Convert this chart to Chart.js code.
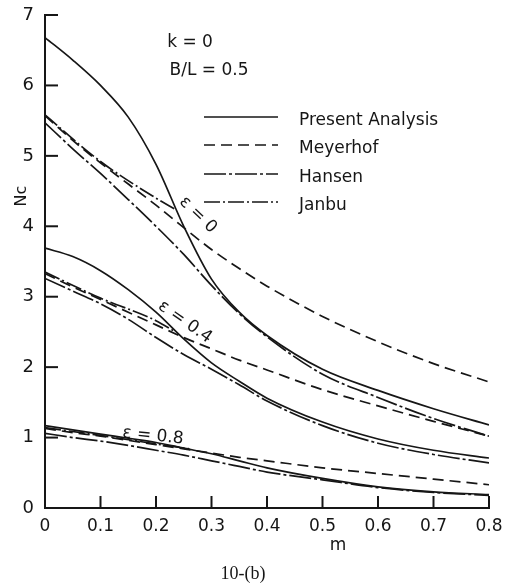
<!DOCTYPE html>
<html>
<head>
<meta charset="utf-8">
<script src="https://cdn.jsdelivr.net/npm/chart.js@4.4.1/dist/chart.umd.min.js"></script>
<style>
  html, body { margin: 0; padding: 0; background: #fff; }
</style>
</head>
<body>
<canvas id="chart" width="508" height="587"></canvas>
<script>
// values (Nc against m, k = 0, B/L = 0.5)
const m = [0, 0.05, 0.1, 0.15, 0.2, 0.25, 0.3, 0.35, 0.4, 0.5, 0.6, 0.7, 0.8]

const presentE0 = [6.68, 6.36, 6.0, 5.55, 4.88, 4.0, 3.25, 2.78, 2.45, 1.97, 1.67, 1.41, 1.18]
const presentE04 = [3.69, 3.57, 3.37, 3.1, 2.78, 2.4, 2.06, 1.8, 1.56, 1.22, 0.98, 0.82, 0.71]
const presentE08 = [1.17, 1.11, 1.05, 0.99, 0.93, 0.85, 0.77, 0.67, 0.57, 0.42, 0.3, 0.23, 0.19]

const meyerhofE0 = [5.57, 5.22, 4.9, 4.6, 4.3, 3.98, 3.67, 3.4, 3.15, 2.72, 2.36, 2.05, 1.79]
const meyerhofE04 = [3.33, 3.14, 2.96, 2.78, 2.6, 2.42, 2.26, 2.1, 1.96, 1.68, 1.45, 1.23, 1.02]
const meyerhofE08 = [1.13, 1.07, 1.02, 0.96, 0.9, 0.84, 0.78, 0.72, 0.67, 0.57, 0.49, 0.41, 0.33]

const hansenE0 = [5.47, 5.1, 4.75, 4.38, 4.0, 3.6, 3.16, 2.76, 2.43, 1.9, 1.57, 1.27, 1.02]
const hansenE04 = [3.26, 3.08, 2.9, 2.68, 2.42, 2.18, 1.97, 1.75, 1.52, 1.17, 0.92, 0.76, 0.64]
const hansenE08 = [1.06, 1.0, 0.95, 0.89, 0.82, 0.75, 0.67, 0.59, 0.51, 0.4, 0.29, 0.22, 0.18]

const mJanbuE0 = [0, 0.1, 0.2, 0.235]
const janbuE0 = [5.58, 4.92, 4.4, 4.24]
const mJanbuE04 = [0, 0.1, 0.2, 0.235]
const janbuE04 = [3.35, 2.98, 2.66, 2.5]
const mJanbuE08 = [0, 0.1, 0.2, 0.26]
const janbuE08 = [1.14, 1.03, 0.91, 0.84]

const xTicks = [0, 0.1, 0.2, 0.3, 0.4, 0.5, 0.6, 0.7, 0.8]
const xTickLabels = ['0', '0.1', '0.2', '0.3', '0.4', '0.5', '0.6', '0.7', '0.8']
const yTicks = [0, 1, 2, 3, 4, 5, 6, 7]
const yTickLabels = ['0', '1', '2', '3', '4', '5', '6', '7']

const methods = ['Present Analysis', 'Meyerhof', 'Hansen', 'Janbu']

const ink = '#161616'
const font = '"DejaVu Sans", sans-serif'

const dashes = {
  'Present Analysis': [],
  'Meyerhof': [11, 6],
  'Hansen': [22, 3, 3, 3],
  'Janbu': [16, 3, 2, 3],
}

function pts(xs, ys) {
  return xs.map((v, i) => ({ x: v, y: ys[i] }))
}

function series(method, xs, ys) {
  return {
    label: method,
    data: pts(xs, ys),
    borderColor: ink,
    borderWidth: 1.7,
    borderDash: dashes[method],
    pointRadius: 0,
    fill: false,
    cubicInterpolationMode: 'monotone',
  }
}

const datasets = [
  series('Present Analysis', m, presentE0),
  series('Present Analysis', m, presentE04),
  series('Present Analysis', m, presentE08),
  series('Meyerhof', m, meyerhofE0),
  series('Meyerhof', m, meyerhofE04),
  series('Meyerhof', m, meyerhofE08),
  series('Hansen', m, hansenE0),
  series('Hansen', m, hansenE04),
  series('Hansen', m, hansenE08),
  series('Janbu', mJanbuE0, janbuE0),
  series('Janbu', mJanbuE04, janbuE04),
  series('Janbu', mJanbuE08, janbuE08),
]

// ticks pointing inwards, legend, labels and caption
const paperMarks = {
  id: 'paperMarks',
  afterDraw(chart) {
    const { ctx, chartArea: a, scales: { x, y } } = chart
    ctx.save()
    ctx.strokeStyle = ink
    ctx.fillStyle = ink
    ctx.lineWidth = 2

    const seg = (x1, y1, x2, y2) => {
      ctx.beginPath()
      ctx.moveTo(x1, y1)
      ctx.lineTo(x2, y2)
      ctx.stroke()
    }
    yTicks.slice(1).forEach(v => {
      const py = y.getPixelForValue(v)
      seg(a.left, py, a.left + 13, py)
    })
    xTicks.slice(1).forEach(v => {
      const px = x.getPixelForValue(v)
      seg(px, a.bottom, px, a.bottom - 12)
    })

    const text = (str, cx, cy, size, angle = 0, family = font) => {
      ctx.save()
      ctx.translate(cx, cy)
      ctx.rotate(angle * Math.PI / 180)
      ctx.font = size + 'px ' + family
      ctx.textAlign = 'center'
      ctx.textBaseline = 'middle'
      ctx.fillText(str, 0, 0)
      ctx.restore()
    }

    // legend
    const rows = [117, 145, 174, 202]
    ctx.lineWidth = 1.7
    methods.forEach((name, i) => {
      ctx.setLineDash(dashes[name])
      seg(204, rows[i], 278, rows[i])
      ctx.setLineDash([])
      ctx.font = '17px ' + font
      ctx.textAlign = 'left'
      ctx.textBaseline = 'middle'
      ctx.fillText(name, 299, rows[i] + 4)
    })

    text('k = 0', 190, 43, 17)
    text('B/L = 0.5', 209, 71, 17)
    text('ε = 0', 198, 215, 17, 44)
    text('ε = 0.4', 185, 322, 17, 35)
    text('ε = 0.8', 153, 436, 17, 6)

    text('Nc', 22, 196, 16, -90)
    text('m', 338, 546, 17)
    text('10-(b)', 243, 574, 18, 0, '"Liberation Serif", serif')
    ctx.restore()
  },
}

new Chart(document.getElementById('chart'), {
  type: 'line',
  data: { datasets },
  plugins: [paperMarks],
  options: {
    responsive: false,
    animation: false,
    devicePixelRatio: 1,
    layout: { padding: { top: 15, right: 19, left: 0, bottom: 0 } },
    plugins: { legend: { display: false }, tooltip: { enabled: false } },
    scales: {
      x: {
        type: 'linear',
        min: 0,
        max: 0.8,
        afterBuildTicks: s => { s.ticks = xTicks.map(v => ({ value: v })) },
        afterFit: s => { s.height = 79 },
        ticks: {
          callback: (v, i) => xTickLabels[i],
          color: ink,
          font: { family: font, size: 17 },
          padding: 0,
          maxRotation: 0,
        },
        grid: { display: false },
        border: { color: ink, width: 2 },
      },
      y: {
        type: 'linear',
        min: 0,
        max: 7,
        afterBuildTicks: s => { s.ticks = yTicks.map(v => ({ value: v })) },
        afterFit: s => { s.width = 45 },
        ticks: {
          callback: (v, i) => yTickLabels[i],
          color: ink,
          font: { family: font, size: 18 },
          padding: 3,
        },
        grid: { display: false },
        border: { color: ink, width: 2 },
      },
    },
  },
})
</script>
</body>
</html>
